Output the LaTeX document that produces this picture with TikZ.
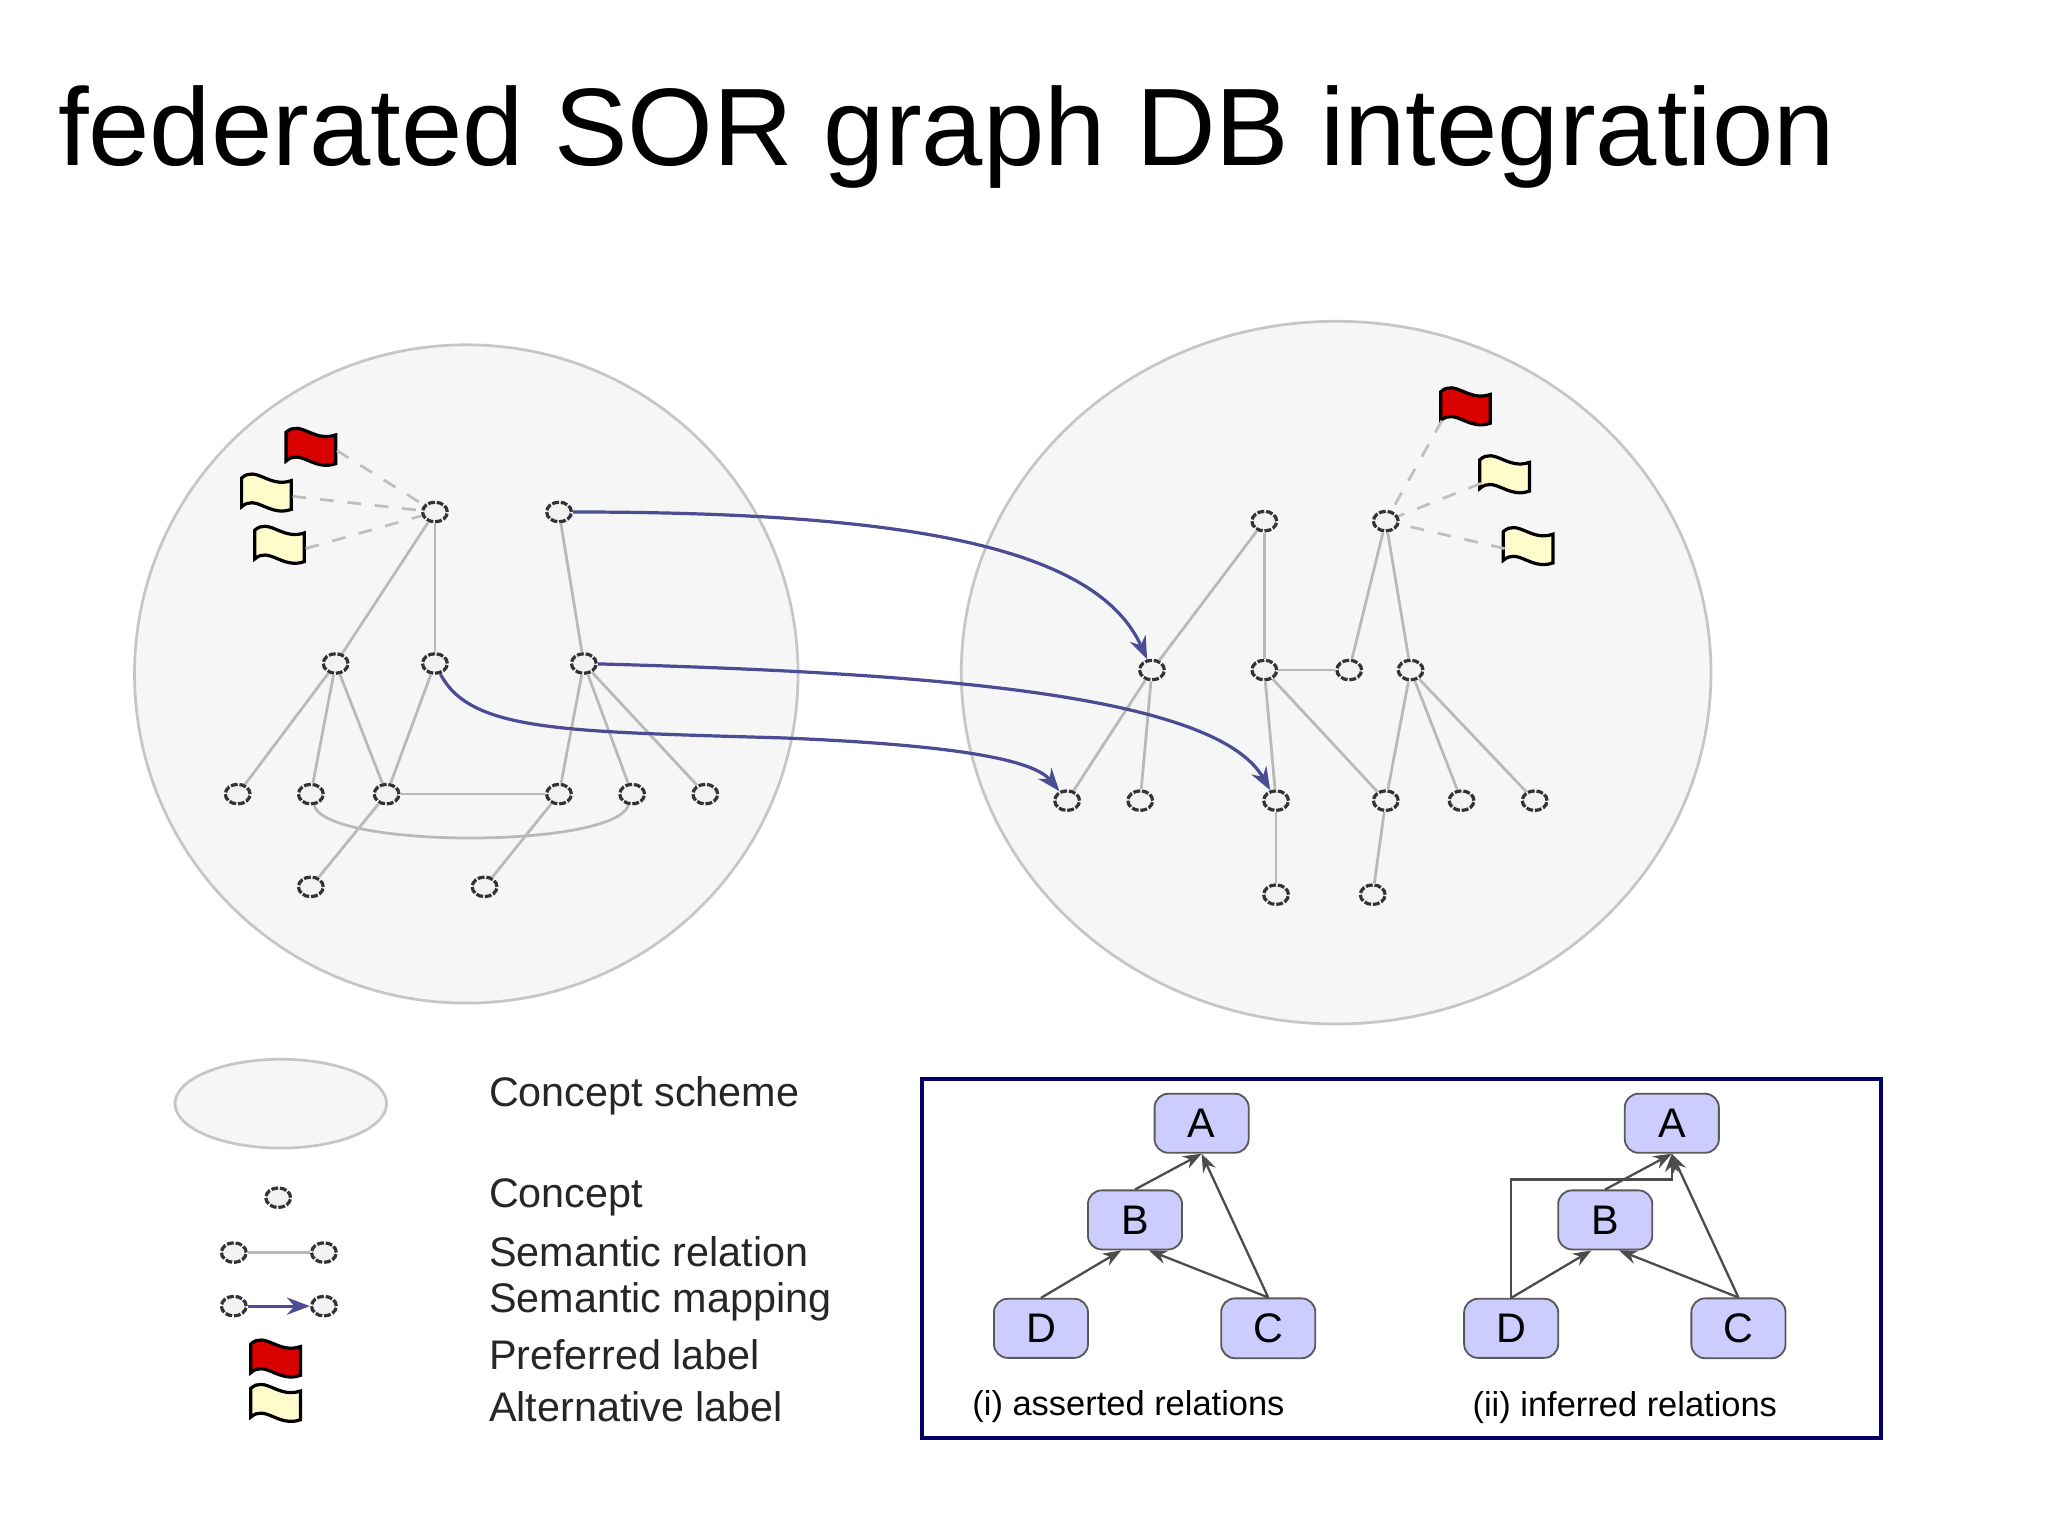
\documentclass[tikz,border=0pt]{standalone}
\usepackage{fontspec}
\setmainfont{Liberation Sans}
\usetikzlibrary{arrows.meta,shapes.geometric}
\begin{document}
\begin{tikzpicture}[x=0.01cm,y=-0.01cm,
 c/.style={draw=black!80,fill=gray!10,ellipse,inner sep=0pt,minimum width=0.19cm,minimum height=0.15cm,line width=0.7pt,dash pattern=on 1.5pt off 0.4pt},
 rel/.style={draw=gray!55,line width=0.6pt},
 map/.style={draw=blue!40!black!70,line width=0.7pt,-{Stealth[length=5pt]}},
 dsh/.style={draw=gray!50,dashed,line width=0.6pt},
 sch/.style={draw=gray!45,fill=gray!7,line width=0.6pt},
 box/.style={draw=gray!70!black,fill=blue!20,rounded corners=3pt,minimum width=0.72cm,minimum height=0.44cm,font=\fontsize{9}{10}\selectfont},
 ar/.style={draw=black!70,line width=0.5pt,-{Stealth[length=4pt]}},
 lg/.style={anchor=west,font=\fontsize{9}{11}\selectfont,text=black!85},
 flag/.pic={\draw[line width=0.7pt,fill=#1] (-19,-10) .. controls (-8,-20) and (2,-2) .. (19,-8) -- (19,14) .. controls (2,20) and (-8,2) .. (-19,12) -- cycle;}
]
\useasboundingbox (0,0) rectangle (1568,1176);
\node[anchor=west,font=\fontsize{24}{29}\selectfont] (title) at (32,105) {federated SOR graph DB integration};
\path[sch] (357,516) ellipse [x radius=254,y radius=252];
\path[sch] (1023,515) ellipse [x radius=287,y radius=269];
\foreach \n/\x/\y in {L1/333/392,L2/428/392,L3/257/508,L4/333/508,L5/447/508,L6/182/608,L7/238/608,L8/296/608,L9/428/608,L10/484/608,L11/540/608,L12/238/679,L13/371/679,
R1/968/399,R2/1061/399,R3/882/513,R4/968/513,R5/1033/513,R6/1080/513,R7/817/613,R8/873/613,R9/977/613,R10/1061/613,R11/1119/613,R12/1175/613,R13/977/685,R14/1051/685}
 \node[c] (\n) at (\x,\y) {};
\foreach \a/\b in {L1/L3,L1/L4,L2/L5,L3/L6,L3/L7,L3/L8,L4/L8,L5/L9,L5/L10,L5/L11,L8/L9,L9/L13,L8/L12,
R1/R3,R1/R4,R4/R5,R2/R5,R2/R6,R3/R7,R3/R8,R4/R9,R4/R10,R6/R10,R6/R11,R6/R12,R9/R13,R10/R14}
 \draw[rel] (\a) -- (\b);
\draw[rel] (L7) .. controls (250,650) and (470,650) .. (L10);
\draw[map] (L2) .. controls (700,392) and (840,420) .. (R3);
\draw[map] (L5) .. controls (700,515) and (930,530) .. (R9);
\draw[map] (L4) .. controls (360,560) and (430,560) .. (600,565) .. controls (720,570) and (790,580) .. (R7);
\pic (f1) at (238,341) {flag=red!85!black};
\pic (f2) at (204,376) {flag=yellow!20};
\pic (f3) at (214,416) {flag=yellow!20};
\coordinate (p1) at (258,345); \coordinate (p2) at (224,380); \coordinate (p3) at (234,420);
\foreach \p in {p1,p2,p3} \draw[dsh] (\p) -- (L1);
\pic (f4) at (1122,310) {flag=red!85!black};
\pic (f5) at (1152,362) {flag=yellow!20};
\pic (f6) at (1170,417) {flag=yellow!20};
\coordinate (q1) at (1104,322); \coordinate (q2) at (1134,370); \coordinate (q3) at (1152,420);
\foreach \p in {q1,q2,q3} \draw[dsh] (\p) -- (R2);
\path[sch] (215,845) ellipse [x radius=81,y radius=34];
\node[c] (g1) at (213,917) {};
\node[c] (g2) at (179,959) {}; \node[c] (g3) at (248,959) {};
\draw[rel] (g2) -- (g3);
\node[c] (g4) at (179,1000) {}; \node[c] (g5) at (248,1000) {};
\draw[map] (g4) -- (g5);
\pic (g6) at (211,1039) {flag=red!85!black};
\pic (g7) at (211,1073) {flag=yellow!20};
\node[lg] (t1) at (362,839) {Concept scheme};
\node[lg] (t2) at (362,917) {Concept};
\node[lg] (t3) at (362,958) {Semantic relation};
\node[lg] (t4) at (362,997) {Semantic mapping};
\node[lg] (t5) at (362,1037) {Preferred label};
\node[lg] (t6) at (362,1077) {Alternative label};
\draw[blue!40!black,line width=1pt] (706,826) rectangle (1440,1101);
\node[box] (A) at (920,860) {A};
\node[box] (B) at (869,934) {B};
\node[box] (D) at (797,1017) {D};
\node[box] (C) at (971,1017) {C};
\draw[ar] (B.north) -- (A.south);
\draw[ar] (D.north) -- ([xshift=-3pt]B.south);
\draw[ar] (C.north) -- ([xshift=3pt]B.south);
\draw[ar] (C.north) -- (A.south);
\node[box] (A2) at (1280,860) {A};
\node[box] (B2) at (1229,934) {B};
\node[box] (D2) at (1157,1017) {D};
\node[box] (C2) at (1331,1017) {C};
\draw[ar] (B2.north) -- (A2.south);
\draw[ar] (D2.north) -- ([xshift=-3pt]B2.south);
\draw[ar] (C2.north) -- ([xshift=3pt]B2.south);
\draw[ar] (C2.north) -- (A2.south);
\draw[ar] (D2.north) -- (1157,903) -- (1280,903) -- (A2.south);
\node[font=\fontsize{7.5}{9}\selectfont] (i1) at (864,1077) {(i) asserted relations};
\node[font=\fontsize{7.5}{9}\selectfont] (i2) at (1244,1078) {(ii) inferred relations};
\end{tikzpicture}
\end{document}
